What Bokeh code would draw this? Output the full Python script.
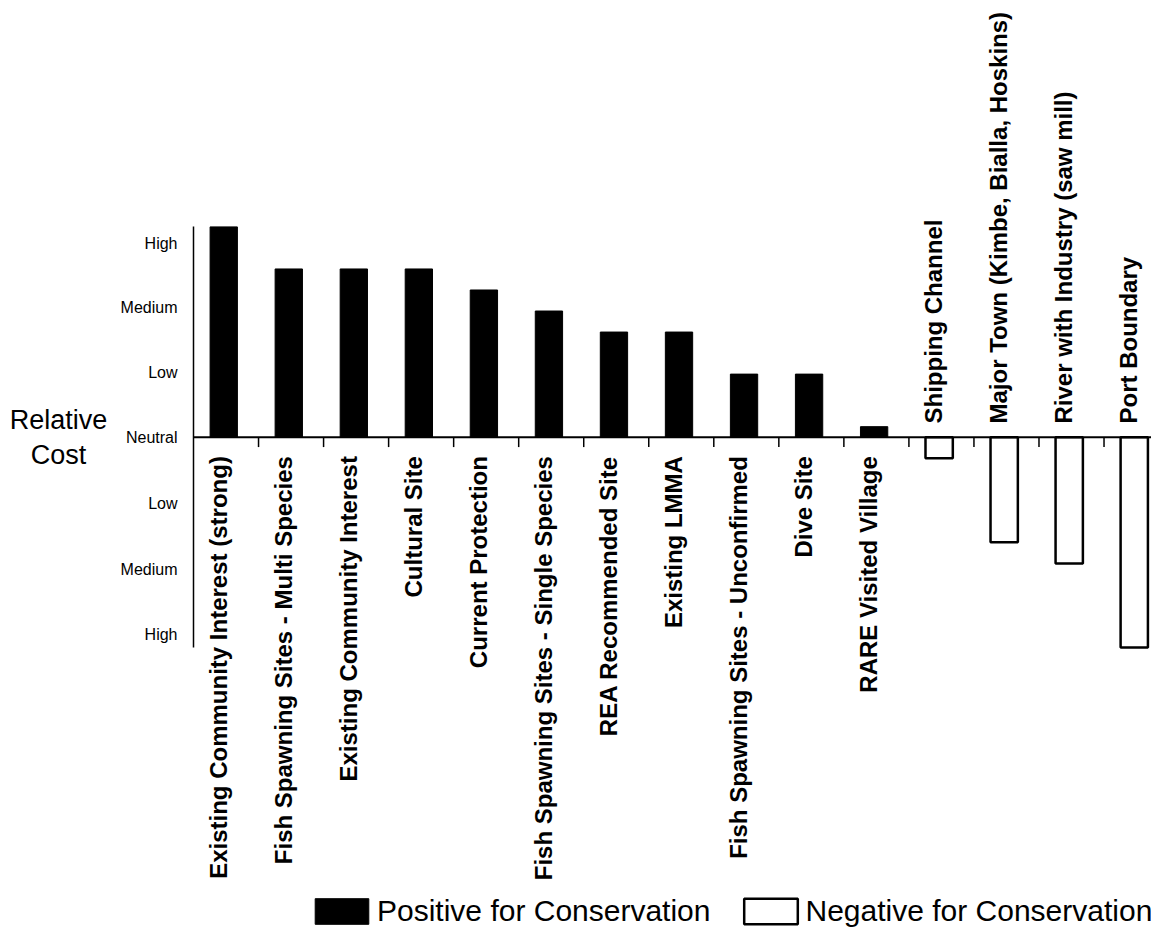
import math
import numpy as np
from bokeh.plotting import figure
from bokeh.layouts import row
from bokeh.models import (ColumnDataSource, Range1d, FixedTicker, Span, Label,
                          Legend, LegendItem)
from bokeh.core.properties import value
from bokeh.embed import file_html
from bokeh.resources import INLINE

# ---------------- data ----------------
categories = [
    "Existing Community Interest (strong)",
    "Fish Spawning Sites - Multi Species",
    "Existing Community Interest",
    "Cultural Site",
    "Current Protection",
    "Fish Spawning Sites - Single Species",
    "REA Recommended Site",
    "Existing LMMA",
    "Fish Spawning Sites - Unconfirmed",
    "Dive Site",
    "RARE Visited Village",
    "Shipping Channel",
    "Major Town (Kimbe, Bialla, Hoskins)",
    "River with Industry (saw mill)",
    "Port Boundary",
]
relative_cost = [10, 8, 8, 8, 7, 6, 5, 5, 3, 3, 0.5, -1, -5, -6, -10]

tick_values = [9.2, 6.15, 3.1, 0, -3.15, -6.3, -9.4]
tick_labels = ["High", "Medium", "Low", "Neutral", "Low", "Medium", "High"]

legend_labels = ["Positive for Conservation", "Negative for Conservation"]
axis_title = ["Relative", "Cost"]

# ---------------- derived ----------------
n = len(categories)
idx = np.arange(n)
pos_i = [i for i in range(n) if relative_cost[i] > 0]
neg_i = [i for i in range(n) if relative_cost[i] < 0]

src_pos = ColumnDataSource(dict(
    x=[i + 0.465 for i in pos_i],
    top=[relative_cost[i] for i in pos_i],
    lx=[i + 0.38 for i in pos_i],
    name=[categories[i] for i in pos_i],
))
src_neg = ColumnDataSource(dict(
    x=[i + 0.465 for i in neg_i],
    val=[relative_cost[i] for i in neg_i],
    lx=[i + 0.38 for i in neg_i],
    name=[categories[i] for i in neg_i],
))

FONT = "Liberation Sans"
H = 927
LEFT_W = 115            # width of the side panel holding the axis title
MAIN_W = 1151 - LEFT_W
UNIT = 21.03            # pixels per value unit
ZERO = 436.7            # canvas y of the zero line

yr = Range1d(-(H - ZERO) / UNIT, ZERO / UNIT)

p = figure(width=MAIN_W, height=H, output_backend="svg", toolbar_location=None,
           x_axis_type=None,
           x_range=Range1d(0, 14.73), y_range=yr,
           min_border_left=193 - LEFT_W, min_border_right=0,
           min_border_top=0, min_border_bottom=0)
p.outline_line_color = None
p.xgrid.visible = False
p.ygrid.visible = False
p.background_fill_color = "white"
p.border_fill_color = "white"

# y axis (label levels)
ya = p.yaxis[0]
ya.ticker = FixedTicker(ticks=tick_values)
ya.major_label_overrides = {v: t for v, t in zip(tick_values, tick_labels)}
ya.bounds = (-10, 10)
ya.axis_line_width = 1.5
ya.axis_line_color = "black"
ya.major_tick_line_color = None
ya.minor_tick_line_color = None
ya.major_tick_out = 0
ya.major_tick_in = 0
ya.major_label_standoff = 16
ya.major_label_text_font = FONT
ya.major_label_text_font_size = "16px"
ya.major_label_text_color = "black"

# horizontal zero line and category separator ticks
p.add_layout(Span(location=0, dimension="width", line_color="black", line_width=2))
sep = idx[1:]
p.segment(x0=sep, y0=0, x1=sep, y1=-0.47, line_color="black", line_width=1.5)

# bars
r_pos = p.vbar(x="x", top="top", bottom=0, width=0.42, source=src_pos,
               fill_color="black", line_color="black", line_width=1)
r_neg = p.vbar(x="x", top=0, bottom="val", width=0.42, source=src_neg,
               fill_color="white", line_color="black", line_width=2.5)

# category labels
p.text(x="lx", y=-0.9, text="name", source=src_pos, angle=math.pi / 2,
       text_align="right", text_baseline="middle",
       text_font=value(FONT), text_font_style="bold", text_font_size="24px",
       text_color="black")
p.text(x="lx", y=0.65, text="name", source=src_neg, angle=math.pi / 2,
       text_align="left", text_baseline="middle",
       text_font=value(FONT), text_font_style="bold", text_font_size="24px",
       text_color="black")

legend = Legend(items=[LegendItem(label=legend_labels[0], renderers=[r_pos]),
                       LegendItem(label=legend_labels[1], renderers=[r_neg])],
                orientation="horizontal", location=(115, -1),
                glyph_width=67, glyph_height=32, label_standoff=2, spacing=26,
                padding=0, margin=0, border_line_color=None,
                background_fill_alpha=0,
                label_text_font=FONT, label_text_font_size="30px",
                label_text_color="black")
p.add_layout(legend)

# side panel with the horizontal y-axis title "Relative Cost"
t = figure(width=LEFT_W, height=H, output_backend="svg", toolbar_location=None,
           x_axis_type=None, y_axis_type=None,
           x_range=Range1d(0, LEFT_W), y_range=yr,
           min_border_left=0, min_border_right=0,
           min_border_top=0, min_border_bottom=0)
t.outline_line_color = None
t.xgrid.visible = False
t.ygrid.visible = False
t.background_fill_color = "white"
t.border_fill_color = "white"
for txt, yy in zip(axis_title, [H - 419, H - 454]):
    t.add_layout(Label(x=58, y=yy, x_units="screen", y_units="screen", text=txt,
                       text_align="center", text_baseline="alphabetic",
                       text_font=FONT, text_font_size="27px", text_color="black"))

layout = row(t, p, spacing=0)
open("out.html", "w").write(file_html(layout, INLINE))
